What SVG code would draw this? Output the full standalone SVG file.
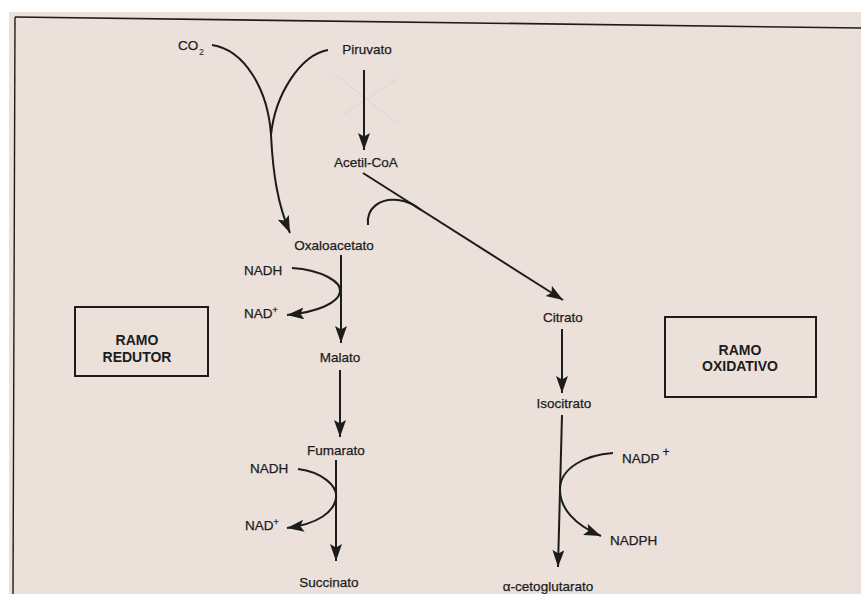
<svg xmlns="http://www.w3.org/2000/svg" width="861" height="594" viewBox="0 0 861 594">
  <style>
    .lbl { font-family: "Liberation Sans", Arial, sans-serif; font-size: 13.5px; fill: #1c1c1c; stroke: #1c1c1c; stroke-width: 0.25; }
    .sub { font-family: "Liberation Sans", Arial, sans-serif; font-size: 9px; fill: #1c1c1c; }
    .box { fill: none; stroke: #1c1c1c; stroke-width: 2; }
    .boxtxt { font-family: "Liberation Sans", Arial, sans-serif; font-size: 14px; font-weight: bold; fill: #1c1c1c; text-anchor: middle; }
    .edge { fill: none; stroke: #1c1c1c; stroke-width: 2; }
    .arr { marker-end: url(#head); }
  </style>
  <defs>
    <marker id="head" markerUnits="userSpaceOnUse" markerWidth="18" markerHeight="13" refX="17" refY="6" orient="auto">
      <path d="M0,0 L17,6 L0,12 L3.5,6 Z" fill="#1c1c1c"/>
    </marker>
  </defs>

  <!-- page -->
  <rect x="0" y="0" width="861" height="594" fill="#ffffff"/>
  <rect x="9" y="12" width="852" height="582" fill="#ebe0da"/>
  <path d="M15,17 L861,28" stroke="#1c1c1c" stroke-width="1.6" fill="none"/>
  <path d="M15,17 L13,594" stroke="#1c1c1c" stroke-width="1.4" fill="none"/>
  <!-- faint pencil cross -->
  <path d="M333,73 L397,123 M343,115 L398,78" stroke="#d2b8bc" stroke-width="0.8" fill="none" opacity="0.45"/>

  <!-- connectors -->
  <g id="connectors">
    <path class="edge arr" d="M212,45 C245,50 268,90 271,135 C273,175 278,205 290,233"/>
    <path class="edge" d="M328,50 C300,55 275,95 271,135"/>
    <path class="edge arr" d="M364,70 L364,150"/>
    <path class="edge arr" d="M363,173 L563,300"/>
    <path class="edge" d="M368,225 C366,208 380,198 398,200 C408,201 414,205 421,210"/>
    <path class="edge arr" d="M341,255 L341,343"/>
    <path class="edge arr" d="M292,268 C322,270 342,282 340,292 C338,303 318,312 287,315"/>
    <path class="edge arr" d="M340,370 L340,437"/>
    <path class="edge arr" d="M336,460 L336,561"/>
    <path class="edge arr" d="M298,469 C322,472 338,486 336,498 C334,512 318,524 287,528"/>
    <path class="edge arr" d="M562,329 L562,393"/>
    <path class="edge arr" d="M562,415 L558,567"/>
    <path class="edge arr" d="M613,453 C585,455 561,468 560,488 C559,508 575,525 601,536"/>
  </g>

  <!-- metabolites -->
  <g id="co2"><text class="lbl" x="178" y="50">CO</text><text class="sub" x="199" y="55">2</text></g>
  <g id="piruvato"><text class="lbl" x="367" y="54" text-anchor="middle">Piruvato</text></g>
  <g id="acetilcoa"><text class="lbl" x="366" y="167" text-anchor="middle">Acetil-CoA</text></g>
  <g id="oxaloacetato"><text class="lbl" x="334" y="250" text-anchor="middle">Oxaloacetato</text></g>
  <g id="nadh1"><text class="lbl" x="244" y="275">NADH</text></g>
  <g id="nad1"><text class="lbl" x="244" y="318">NAD<tspan class="sub" dy="-5">+</tspan></text></g>
  <g id="malato"><text class="lbl" x="340" y="362" text-anchor="middle">Malato</text></g>
  <g id="fumarato"><text class="lbl" x="336" y="455" text-anchor="middle">Fumarato</text></g>
  <g id="nadh2"><text class="lbl" x="250" y="473">NADH</text></g>
  <g id="nad2"><text class="lbl" x="245" y="530">NAD<tspan class="sub" dy="-5">+</tspan></text></g>
  <g id="succinato"><text class="lbl" x="329" y="587" text-anchor="middle">Succinato</text></g>
  <g id="citrato"><text class="lbl" x="563" y="322" text-anchor="middle">Citrato</text></g>
  <g id="isocitrato"><text class="lbl" x="564" y="408" text-anchor="middle">Isocitrato</text></g>
  <g id="nadp"><text class="lbl" x="622" y="463">NADP<tspan font-size="12" dx="3" dy="-7">+</tspan></text></g>
  <g id="nadph"><text class="lbl" x="610" y="545">NADPH</text></g>
  <g id="cetoglutarato"><text class="lbl" x="548" y="591" text-anchor="middle">α-cetoglutarato</text></g>

  <!-- branch boxes -->
  <g id="ramo-redutor">
    <rect class="box" x="75" y="307" width="133" height="69"/>
    <text class="boxtxt" x="137" y="345">RAMO</text>
    <text class="boxtxt" x="137" y="362">REDUTOR</text>
  </g>
  <g id="ramo-oxidativo">
    <rect class="box" x="665" y="317" width="151" height="80"/>
    <text class="boxtxt" x="740" y="355">RAMO</text>
    <text class="boxtxt" x="740" y="371">OXIDATIVO</text>
  </g>
</svg>
